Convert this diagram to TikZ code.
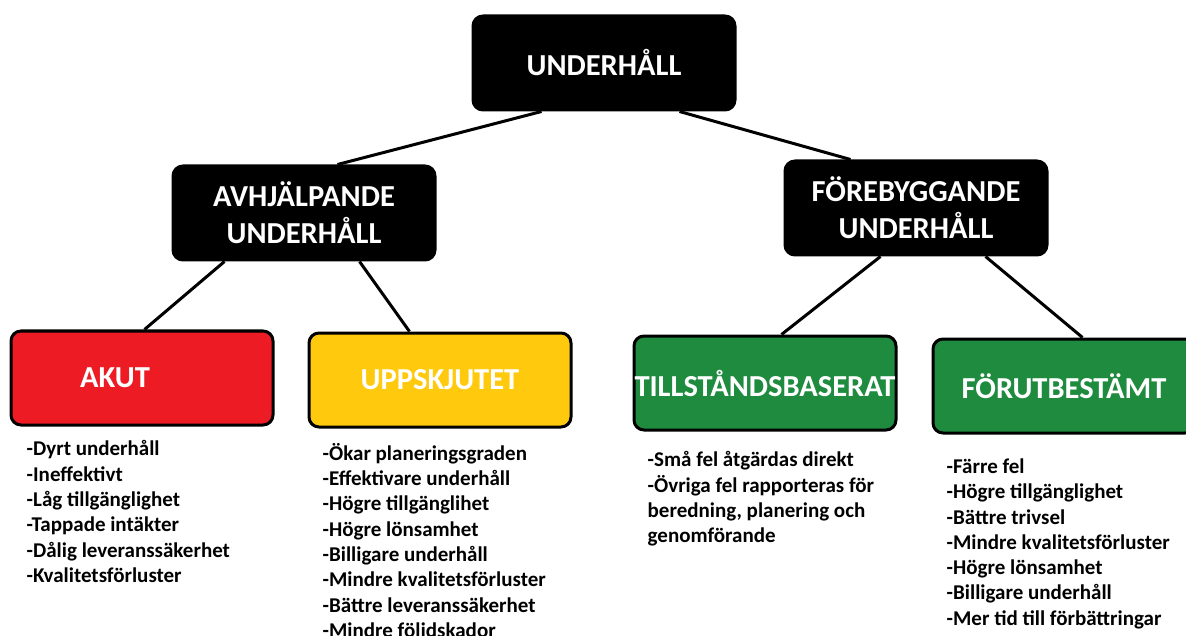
\documentclass[tikz,border=0pt]{standalone}
\usepackage{fontspec}
\setmainfont{Carlito}
\usetikzlibrary{positioning,calc}

\definecolor{akutred}{HTML}{ED1C24}
\definecolor{uppyellow}{HTML}{FFC90E}
\definecolor{tillgreen}{HTML}{1F8B3F}

\tikzset{
    boxfont/.style={font=\fontsize{30.5}{37}\selectfont\bfseries},
    box/.style={draw=black, line width=3pt, rounded corners=10pt, minimum width=262pt,
        minimum height=94pt, inner xsep=0pt, align=center, text=white, boxfont},
    list/.style={anchor=north west, align=left, inner sep=0pt,
        font=\fontsize{21}{25.3}\selectfont\bfseries},
    conn/.style={line width=3pt}
}

\begin{document}
\begin{tikzpicture}[x=1pt,y=-1pt]
    \clip (0,0) rectangle (1186,636);

    \node[box, fill=black] (top) at (604,63) {UNDERHÅLL};
    \node[box, fill=black] (avh) at (304,213) {AVHJÄLPANDE\\UNDERHÅLL};
    \node[box, fill=black] (fore) at (916,208) {FÖREBYGGANDE\\UNDERHÅLL};

    \node[box, fill=akutred, label={[white, boxfont, xshift=-27pt]center:AKUT}] (akut) at (142,378) {};
    \node[box, fill=uppyellow] (upp) at (440,380) {UPPSKJUTET};
    \node[box, fill=tillgreen] (till) at (765,383) {TILLSTÅNDSBASERAT};
    \node[box, fill=tillgreen] (forut) at (1064,386) {FÖRUTBESTÄMT};

    \draw[conn] ([xshift=70]top.south west) -- ([xshift=166]avh.north west);
    \draw[conn] ([xshift=208]top.south west) -- ([xshift=67]fore.north west);
    \draw[conn] ([xshift=53]avh.south west) -- ([xshift=135]akut.north west);
    \draw[conn] ([xshift=188]avh.south west) -- ([xshift=102]upp.north west);
    \draw[conn] ([xshift=97]fore.south west) -- ([xshift=149]till.north west);
    \draw[conn] ([xshift=202]fore.south west) -- ([xshift=151]forut.north west);

    \node[list] (akutlist) at ($(akut.south west)+(17,14)$)
        {-Dyrt underhåll\\-Ineffektivt\\-Låg tillgänglighet\\-Tappade intäkter\\-Dålig leveranssäkerhet\\-Kvalitetsförluster};
    \node[list] (upplist) at ($(upp.south west)+(15,14.5)$)
        {-Ökar planeringsgraden\\-Effektivare underhåll\\-Högre tillgänglihet\\-Högre lönsamhet\\-Billigare underhåll\\-Mindre kvalitetsförluster\\-Bättre leveranssäkerhet\\-Mindre följdskador};
    \node[list] (tilllist) at ($(till.south west)+(15,20)$)
        {-Små fel åtgärdas direkt\\-Övriga fel rapporteras för\\beredning, planering och\\genomförande};
    \node[list] (forutlist) at ($(forut.south west)+(15,24)$)
        {-Färre fel\\-Högre tillgänglighet\\-Bättre trivsel\\-Mindre kvalitetsförluster\\-Högre lönsamhet\\-Billigare underhåll\\-Mer tid till förbättringar};
\end{tikzpicture}
\end{document}
